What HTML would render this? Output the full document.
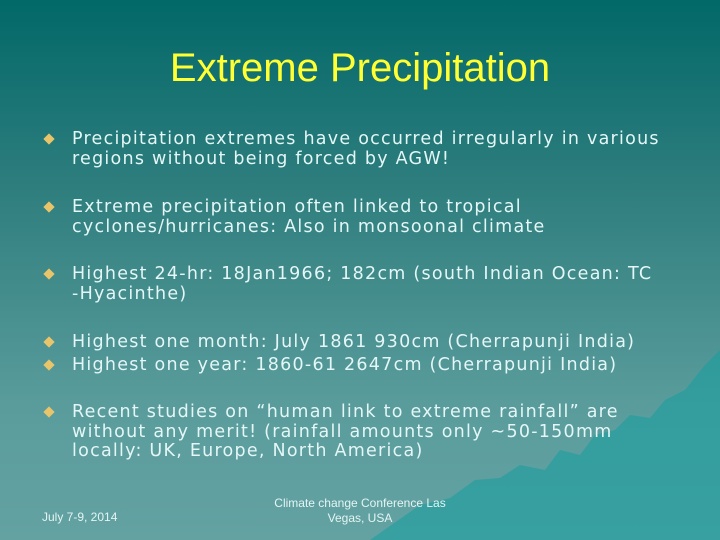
<!DOCTYPE html>
<html><head><meta charset="utf-8"><style>
html,body{margin:0;padding:0}
body{width:720px;height:540px;position:relative;overflow:hidden;background:linear-gradient(#026868 0%,#2f7e7e 35%,#5a9c9c 75%,#64a2a2 100%);font-family:"DejaVu Sans","Liberation Sans",sans-serif}
.t{position:absolute;left:0;width:720px;top:43px;text-align:center;color:#ffff33;font-family:"Liberation Sans",sans-serif;font-size:40px;line-height:50px}
.b{position:absolute;left:72px;color:#e4f6f6;font-size:17.5px;letter-spacing:1.25px;line-height:19.5px;white-space:nowrap}
.d{position:absolute;left:45px;width:8px;height:8px;background:#e8c46a;transform:rotate(45deg)}
.f{position:absolute;color:#e4f4f4;font-size:12px;font-family:"Liberation Sans",sans-serif}
</style></head><body>
<svg style="position:absolute;left:0;top:0" width="720" height="540"><path d="M370 540 L420 505 L450 498 L475 480 L500 478 L520 465 L545 470 L560 450 L580 455 L595 435 L615 430 L630 415 L650 418 L665 400 L685 390 L705 365 L720 350 L720 540 Z" fill="#1a9e9e" opacity="0.6"/></svg>
<div class="t">Extreme Precipitation</div>
<div class="d" style="top:135px"></div>
<div class="b" style="top:130px">Precipitation extremes have occurred irregularly in various<br>regions without being forced by AGW!</div>
<div class="d" style="top:203px"></div>
<div class="b" style="top:198px">Extreme precipitation often linked to tropical<br>cyclones/hurricanes: Also in monsoonal climate</div>
<div class="d" style="top:270px"></div>
<div class="b" style="top:265px">Highest 24-hr: 18Jan1966; 182cm (south Indian Ocean: TC<br>-Hyacinthe)</div>
<div class="d" style="top:338px"></div>
<div class="b" style="top:333px">Highest one month: July 1861 930cm (Cherrapunji India)</div>
<div class="d" style="top:361px"></div>
<div class="b" style="top:356px">Highest one year: 1860-61 2647cm (Cherrapunji India)</div>
<div class="d" style="top:408px"></div>
<div class="b" style="top:403px">Recent studies on “human link to extreme rainfall” are<br>without any merit! (rainfall amounts only ~50-150mm<br>locally: UK, Europe, North America)</div>
<div class="f" style="left:42px;top:510px">July 7-9, 2014</div>
<div class="f" style="left:250px;top:496px;width:220px;text-align:center;line-height:15px">Climate change Conference Las<br>Vegas, USA</div>
</body></html>
